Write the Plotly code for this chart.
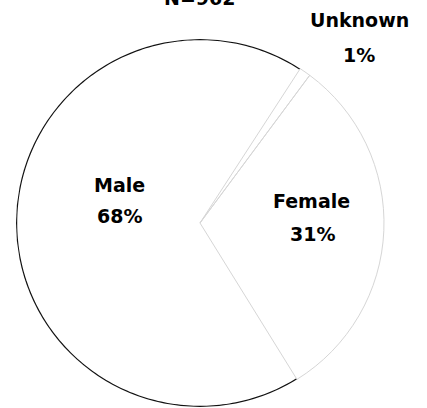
import numpy as np
import plotly.graph_objects as go

# Gender breakdown of the sample
labels = ["Unknown", "Female", "Male"]
shares = [1, 31, 68]
total_n = 962

start_angle = 33  # degrees clockwise from 12 o'clock where the first slice begins
pie_x = [0.0375, 0.8993]
pie_y = [0.0025, 0.9044]
font_family = "DejaVu Sans"
edge_colors = ["#d6d6d6", "#d6d6d6", "rgba(0,0,0,0)"]

fig = go.Figure()

# Pie slices: open fill with faint grey edges (the Male rim is drawn separately)
fig.add_trace(go.Pie(
    labels=labels,
    values=shares,
    sort=False,
    direction="clockwise",
    rotation=start_angle,
    textinfo="none",
    hoverinfo="label+percent",
    marker=dict(colors=["rgba(255,255,255,0)"] * 3,
                line=dict(color=edge_colors, width=1)),
    domain=dict(x=pie_x, y=pie_y),
    showlegend=False,
))

# Dark outer rim along the Male slice, angles derived from the shares
cum = np.cumsum([0] + shares) / sum(shares) * 360 + start_angle
male_i = labels.index("Male")
theta = np.linspace(cum[male_i], cum[male_i + 1], 240)
fig.add_trace(go.Scatterpolar(
    r=np.ones_like(theta),
    theta=theta,
    mode="lines",
    line=dict(color="#111111", width=2.4),
    cliponaxis=False,
    hoverinfo="skip",
    showlegend=False,
))

fig.update_layout(
    width=427, height=408,
    margin=dict(l=0, r=0, t=0, b=0),
    paper_bgcolor="white",
    polar=dict(
        domain=dict(x=pie_x, y=pie_y),
        bgcolor="rgba(0,0,0,0)",
        radialaxis=dict(range=[0, 1], visible=False),
        angularaxis=dict(rotation=90, direction="clockwise", visible=False),
    ),
)

# Slice labels: name and share on separate lines
label_pos = {
    "Male": ((119.5, 185.5), (119.5, 215.5)),
    "Female": ((311.5, 200.5), (312.0, 234.5)),
    "Unknown": ((359.0, 20.0), (359.0, 55.0)),
}
W, H = 427, 408
for name, val in zip(labels, shares):
    (x1, y1), (x2, y2) = label_pos[name]
    for (px, py), txt in (((x1, y1), name), ((x2, y2), f"{val}%")):
        fig.add_annotation(
            x=px / W, y=1 - py / H, xref="paper", yref="paper",
            text=f"<b>{txt}</b>", showarrow=False,
            xanchor="center", yanchor="middle",
            font=dict(family=font_family, size=19, color="black"),
        )

# Sample size heading at the top edge
fig.add_annotation(
    x=199 / W, y=1 - 11 / H, xref="paper", yref="paper",
    text=f"<b>N={total_n}</b>", showarrow=False,
    xanchor="center", yanchor="bottom",
    font=dict(family=font_family, size=19, color="black"),
)

fig.write_html("out.html")
